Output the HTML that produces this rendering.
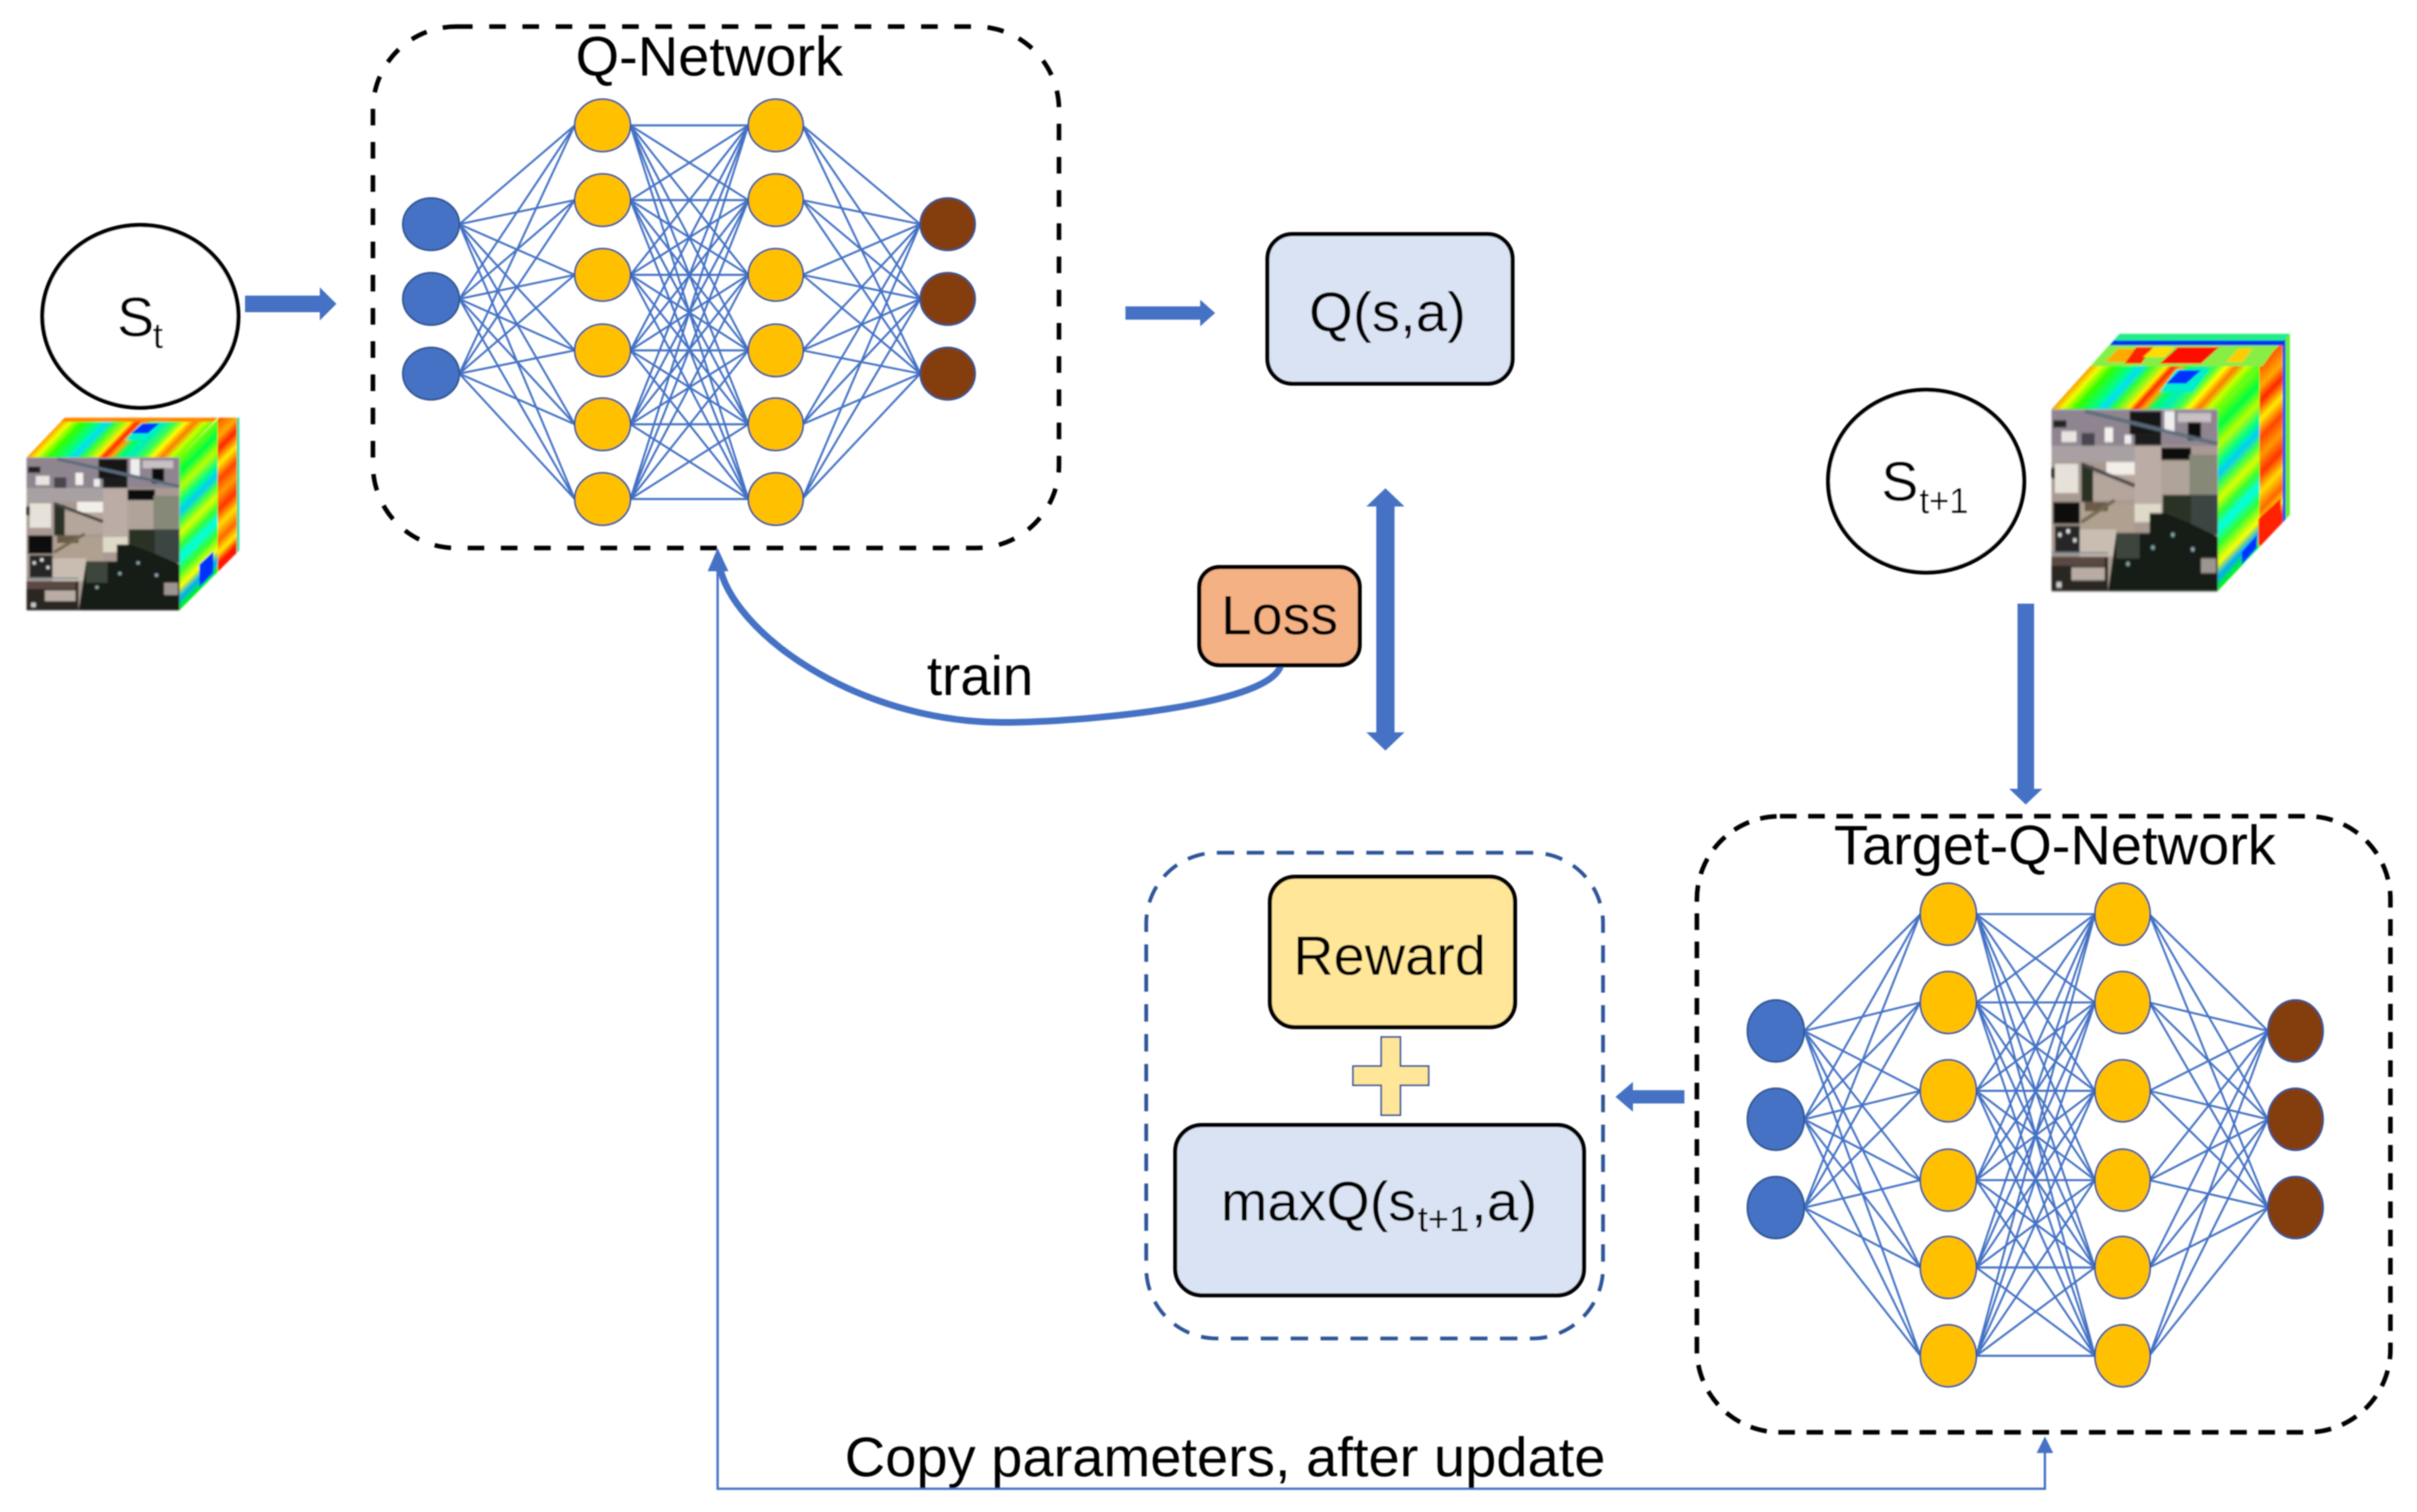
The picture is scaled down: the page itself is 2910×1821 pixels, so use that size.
<!DOCTYPE html>
<html>
<head>
<meta charset="utf-8">
<style>
html,body{margin:0;padding:0;background:#fff}
svg{display:block}
text{font-family:"Liberation Sans",sans-serif;fill:#000;font-size:67px}
.l{fill:none;stroke:#4472c4;stroke-width:2.4;vector-effect:non-scaling-stroke}
.h{fill:#ffc000;stroke:#2f528f;stroke-width:2;vector-effect:non-scaling-stroke}
.i{fill:#4472c4;stroke:#2f528f;stroke-width:2;vector-effect:non-scaling-stroke}
.o{fill:#843c0c;stroke:#2f528f;stroke-width:2;vector-effect:non-scaling-stroke}
</style>
</head>
<body>
<svg xmlns="http://www.w3.org/2000/svg" width="2910" height="1821" viewBox="0 0 2910 1821">
<defs>
<filter id="all" filterUnits="userSpaceOnUse" x="0" y="0" width="2910" height="1821"><feGaussianBlur stdDeviation="0.8"/></filter>
<filter id="b" x="-5%" y="-5%" width="110%" height="110%"><feGaussianBlur stdDeviation="0.45"/></filter>
<filter id="b2" x="-10%" y="-10%" width="120%" height="120%"><feGaussianBlur stdDeviation="0.9"/></filter>
<linearGradient id="top" x1="0" x2="1" y1="0" y2="0">
<stop offset="0" stop-color="#ff9900"/><stop offset=".06" stop-color="#eeff00"/><stop offset=".14" stop-color="#33ff00"/><stop offset=".25" stop-color="#00ff88"/><stop offset=".31" stop-color="#00ddff"/><stop offset=".37" stop-color="#33ff33"/><stop offset=".46" stop-color="#ffee00"/><stop offset=".5" stop-color="#ff2200"/><stop offset=".55" stop-color="#ffaa00"/><stop offset=".6" stop-color="#00ff66"/><stop offset=".68" stop-color="#00eebb"/><stop offset=".76" stop-color="#44ff44"/><stop offset=".82" stop-color="#ffff00"/><stop offset=".88" stop-color="#ff7700"/><stop offset=".94" stop-color="#ccff00"/><stop offset="1" stop-color="#66ff00"/>
</linearGradient>
<linearGradient id="near" x1="0" x2="0" y1="0" y2="1">
<stop offset="0" stop-color="#77ff00"/><stop offset=".1" stop-color="#00ff44"/><stop offset=".2" stop-color="#bbff00"/><stop offset=".3" stop-color="#00ff88"/><stop offset=".36" stop-color="#00ccff"/><stop offset=".43" stop-color="#44ff44"/><stop offset=".5" stop-color="#ddff00"/><stop offset=".58" stop-color="#33ff33"/><stop offset=".66" stop-color="#00ffee"/><stop offset=".75" stop-color="#33ff33"/><stop offset=".85" stop-color="#ffff00"/><stop offset=".92" stop-color="#00aaff"/><stop offset="1" stop-color="#00ff00"/>
</linearGradient>
<linearGradient id="far" x1="0" x2="0" y1="0" y2="1">
<stop offset="0" stop-color="#ff5500"/><stop offset=".12" stop-color="#ffaa00"/><stop offset=".2" stop-color="#ff2200"/><stop offset=".3" stop-color="#ffee00"/><stop offset=".4" stop-color="#ff4400"/><stop offset=".5" stop-color="#ff9900"/><stop offset=".6" stop-color="#ff3300"/><stop offset=".7" stop-color="#ffdd00"/><stop offset=".8" stop-color="#ff6600"/><stop offset=".88" stop-color="#ffee00"/><stop offset=".95" stop-color="#ff1100"/><stop offset="1" stop-color="#ff2200"/>
</linearGradient>
<g id="photo">
<rect width="100" height="100" fill="#a89a92"/>
<rect width="100" height="20" fill="#8f8590"/>
<rect x="47" y="1" width="19" height="13" fill="#151515"/>
<rect x="68" y="1" width="6" height="11" fill="#eee"/>
<rect x="76" y="2" width="20" height="5" fill="#c8c0c4"/>
<rect x="82" y="7" width="8" height="10" fill="#111"/>
<rect x="32" y="10" width="5" height="8" fill="#f4f2ee"/>
<rect x="6" y="12" width="9" height="6" fill="#e8e4e0"/>
<rect x="44" y="14" width="4" height="5" fill="#eee"/>
<rect x="1" y="6" width="8" height="4" fill="#222"/>
<rect x="18" y="13" width="8" height="7" fill="#4a4450"/>
<rect x="50" y="13" width="16" height="7" fill="#1b1b1b"/>
<rect x="0" y="20" width="50" height="9" fill="#a8a0a2"/>
<rect x="66" y="21" width="18" height="7" fill="#0a0a0a"/>
<rect x="83" y="25" width="17" height="22" fill="#868878"/>
<rect x="50" y="20" width="16" height="32" fill="#bbaca6"/>
<rect x="66" y="28" width="17" height="19" fill="#b0a49a"/>
<rect x="2" y="30" width="14" height="16" fill="#e6e2da"/>
<rect x="33" y="29" width="17" height="7" fill="#f2efe8"/>
<rect x="25" y="36" width="25" height="14" fill="#b5a69c"/>
<rect x="18" y="31" width="7" height="20" fill="#2a3328"/>
<rect x="0" y="32" width="2" height="6" fill="#111"/>
<rect x="1" y="51" width="16" height="12" fill="#0c0c0c"/>
<rect x="18" y="52" width="32" height="16" fill="#b0a090"/>
<rect x="20" y="51" width="14" height="5" fill="#6a5a46"/>
<rect x="50" y="52" width="16" height="10" fill="#dfdac8"/>
<rect x="2" y="64" width="15" height="15" fill="#262626"/>
<rect x="17" y="66" width="22" height="15" fill="#c8bdb0"/>
<rect x="67" y="47" width="17" height="16" fill="#2a3028"/>
<rect x="84" y="47" width="16" height="22" fill="#3a4442"/>
<polygon points="59,57 68,57 84,63 100,70 100,100 34,100 39,68 59,68" fill="#141a18"/>
<rect x="39" y="68" width="14" height="14" fill="#3c443c"/>
<rect x="0" y="81" width="34" height="19" fill="#2a2624"/>
<rect x="0" y="81" width="32" height="5" fill="#5a4a42"/>
<rect x="12" y="87" width="20" height="7" fill="#b8aca4"/>
<rect x="90" y="82" width="9" height="8" fill="#9d9590"/>
<rect x="4" y="68" width="2" height="2" fill="#ddd"/><rect x="9" y="66" width="2" height="2" fill="#eee"/><rect x="13" y="71" width="2" height="2" fill="#ddd"/>
<rect x="60" y="75" width="2" height="2" fill="#8aa"/><rect x="72" y="68" width="2" height="2" fill="#8aa"/><rect x="84" y="76" width="2" height="2" fill="#9ab"/><rect x="45" y="84" width="2" height="2" fill="#8aa"/><rect x="3" y="95" width="3" height="3" fill="#ccc"/>
<path d="M20 1L100 19" stroke="#5c6c7c" stroke-width="2" fill="none"/>
<path d="M18 30L50 42" stroke="#444" stroke-width="2" fill="none"/>
<path d="M18 62L38 50" stroke="#6f6a50" stroke-width="2" fill="none"/>
<path d="M0 79H34" stroke="#7c8c98" stroke-width="1" fill="none"/>
</g>
<clipPath id="c1"><rect x="0" y="503" width="320" height="260"/></clipPath>
<clipPath id="c2"><polygon points="2670,493 2757,402 2757,620 2670,712"/></clipPath>
<g id="net">
<path class="l" d="M553 270L692 151M553 270L692 241M553 270L692 331M553 270L692 422M553 270L692 511M553 270L692 601M553 360L692 151M553 360L692 241M553 360L692 331M553 360L692 422M553 360L692 511M553 360L692 601M553 450L692 151M553 450L692 241M553 450L692 331M553 450L692 422M553 450L692 511M553 450L692 601"/>
<path class="l" d="M759 151L901 151M759 151L901 241M759 151L901 331M759 151L901 422M759 151L901 511M759 151L901 601M759 241L901 151M759 241L901 241M759 241L901 331M759 241L901 422M759 241L901 511M759 241L901 601M759 331L901 151M759 331L901 241M759 331L901 331M759 331L901 422M759 331L901 511M759 331L901 601M759 422L901 151M759 422L901 241M759 422L901 331M759 422L901 422M759 422L901 511M759 422L901 601M759 511L901 151M759 511L901 241M759 511L901 331M759 511L901 422M759 511L901 511M759 511L901 601M759 601L901 151M759 601L901 241M759 601L901 331M759 601L901 422M759 601L901 511M759 601L901 601"/>
<path class="l" d="M966 151L1108 270M966 151L1108 360M966 151L1108 450M966 241L1108 270M966 241L1108 360M966 241L1108 450M966 331L1108 270M966 331L1108 360M966 331L1108 450M966 422L1108 270M966 422L1108 360M966 422L1108 450M966 511L1108 270M966 511L1108 360M966 511L1108 450M966 601L1108 270M966 601L1108 360M966 601L1108 450"/>
<ellipse class="i" cx="519" cy="270" rx="34" ry="31.5"/><ellipse class="i" cx="519" cy="360" rx="34" ry="31.5"/><ellipse class="i" cx="519" cy="450" rx="34" ry="31.5"/>
<ellipse class="h" cx="725.5" cy="151" rx="33.5" ry="31.5"/><ellipse class="h" cx="725.5" cy="241" rx="33.5" ry="31.5"/><ellipse class="h" cx="725.5" cy="331" rx="33.5" ry="31.5"/><ellipse class="h" cx="725.5" cy="422" rx="33.5" ry="31.5"/><ellipse class="h" cx="725.5" cy="511" rx="33.5" ry="31.5"/><ellipse class="h" cx="725.5" cy="601" rx="33.5" ry="31.5"/>
<ellipse class="h" cx="934" cy="151" rx="33" ry="31.5"/><ellipse class="h" cx="934" cy="241" rx="33" ry="31.5"/><ellipse class="h" cx="934" cy="331" rx="33" ry="31.5"/><ellipse class="h" cx="934" cy="422" rx="33" ry="31.5"/><ellipse class="h" cx="934" cy="511" rx="33" ry="31.5"/><ellipse class="h" cx="934" cy="601" rx="33" ry="31.5"/>
<ellipse class="o" cx="1141" cy="270" rx="33" ry="31.5"/><ellipse class="o" cx="1141" cy="360" rx="33" ry="31.5"/><ellipse class="o" cx="1141" cy="450" rx="33" ry="31.5"/>
</g>
</defs>

<rect width="2910" height="1821" fill="#fff"/>
<g filter="url(#all)">

<!-- Cube 1 -->
<g filter="url(#b2)">
<g clip-path="url(#c1)">
<g transform="matrix(72,-72,0,184,216,551)">
<rect width=".64" height="1" fill="url(#near)"/>
<rect x=".64" width=".32" height="1" fill="url(#far)"/>
<rect x=".96" width=".04" height="1" fill="#00dd99"/>
</g>
<polygon points="240,680 257,664 257,690 240,707" fill="#0033ff"/>
<g transform="matrix(184,0,46,-48,32,551)"><rect width="1" height="1" fill="url(#top)"/></g>
<polygon points="150,530 175,530 195,510 170,510" fill="#00eecc"/>
<polygon points="158,522 178,522 192,510 172,510" fill="#0033ff"/>
<polygon points="78,503 262,503 257,508 73,508" fill="#ff8800"/>
</g>
<g transform="translate(32,551) scale(1.84)"><use href="#photo" filter="url(#b)"/></g>
</g>

<!-- Cube 2 -->
<g filter="url(#b2)">
<g clip-path="url(#c2)">
<g transform="matrix(87,-91,0,219,2670,493)">
<rect width=".58" height="1" fill="url(#near)"/>
<rect x=".58" width=".32" height="1" fill="url(#far)"/>
<rect x=".9" width=".04" height="1" fill="#0044ee"/>
<rect x=".94" width=".06" height="1" fill="#66ee33"/>
</g>
<polygon points="2699,680 2717,660 2717,645 2699,665" fill="#0033ff"/>
<polygon points="2719,657 2746,630 2746,600 2719,625" fill="#ff2200"/>
</g>
<polygon points="2470,493 2552,402 2757,402 2670,493" fill="#33ff33"/>
<g transform="matrix(200,0,47,-52,2470,493)"><rect width="1" height="1" fill="url(#top)"/></g>
<polygon points="2517,441 2724,441 2745,412 2545,412" fill="#88ee44"/>
<polygon points="2535,436 2560,436 2575,420 2550,420" fill="#ffaa00"/>
<polygon points="2558,438 2578,438 2592,418 2572,418" fill="#ff2200"/>
<polygon points="2600,438 2650,438 2672,418 2622,418" fill="#ff1100"/>
<polygon points="2580,430 2606,430 2618,418 2594,418" fill="#ffdd00"/>
<polygon points="2680,436 2700,436 2712,420 2695,420" fill="#ffcc00"/>
<polygon points="2545,410 2750,410 2750,416 2540,416" fill="#0033ee"/>
<polygon points="2552,402 2757,402 2750,410 2545,410" fill="#22ee88"/>
<polygon points="2600,472 2640,472 2660,445 2620,445" fill="#00eecc"/>
<polygon points="2608,462 2632,462 2650,446 2624,446" fill="#0033ff"/>
<g transform="translate(2470,493) scale(2,2.19)"><use href="#photo" filter="url(#b)"/></g>
</g>

<!-- Copy connector -->
<path d="M864 687V1793H2462V1745" fill="none" stroke="#4472c4" stroke-width="2.8"/>
<polygon points="2462,1730 2452,1750 2472,1750" fill="#4472c4"/>

<!-- Curve -->
<path d="M1542 801C1530 850 1300 870 1208 870C1030 870 880 760 866 680" fill="none" stroke="#4472c4" stroke-width="8"/>
<polygon points="864,660 852,688 877,688" fill="#4472c4"/>

<!-- Q-Network -->
<rect x="449" y="32" width="826" height="628" rx="100" ry="100" fill="none" stroke="#000" stroke-width="5.5" stroke-dasharray="20 20"/>
<use href="#net"/>
<text x="693" y="91" textLength="322" lengthAdjust="spacingAndGlyphs">Q-Network</text>

<!-- St -->
<ellipse cx="169" cy="381" rx="118" ry="110" fill="#fff" stroke="#000" stroke-width="5"/>
<text x="141" y="405">S</text><text x="184" y="419" style="font-size:44px">t</text>

<!-- St+1 -->
<ellipse cx="2319" cy="579.5" rx="118" ry="110" fill="#fff" stroke="#000" stroke-width="5"/>
<text x="2265" y="603">S</text><text x="2311" y="618" style="font-size:44px" textLength="59" lengthAdjust="spacingAndGlyphs">t+1</text>

<!-- Arrows -->
<polygon points="295,356 385,356 385,346 405,366 385,386 385,376 295,376" fill="#4472c4"/>
<polygon points="1355,369 1445,369 1445,361 1463,377 1445,393 1445,385 1355,385" fill="#4472c4"/>
<polygon points="1668,588 1691,610 1679,610 1679,882 1691,882 1668,904 1645,882 1657,882 1657,610 1645,610" fill="#4472c4"/>
<polygon points="2429,727 2449,727 2449,950 2459,950 2439,969 2419,950 2429,950" fill="#4472c4"/>
<polygon points="1945,1321 1966,1303 1966,1313 2028,1313 2028,1329 1966,1329 1966,1339" fill="#4472c4"/>

<!-- Q(s,a) -->
<rect x="1526" y="282" width="295" height="180" rx="30" ry="30" fill="#dae3f3" stroke="#000" stroke-width="5"/>
<text x="1576" y="399" textLength="189" lengthAdjust="spacingAndGlyphs">Q(s,a)</text>

<!-- Loss -->
<rect x="1444" y="683" width="193" height="118" rx="24" ry="24" fill="#f4b183" stroke="#000" stroke-width="5"/>
<text x="1470" y="764" textLength="141" lengthAdjust="spacingAndGlyphs">Loss</text>
<text x="1116" y="837" textLength="128" lengthAdjust="spacingAndGlyphs">train</text>

<!-- Reward group -->
<rect x="1380" y="1027" width="550" height="585" rx="85" ry="85" fill="none" stroke="#2f5597" stroke-width="4.5" stroke-dasharray="21 15"/>
<rect x="1529" y="1056" width="295" height="181" rx="30" ry="30" fill="#ffe699" stroke="#000" stroke-width="5"/>
<text x="1557" y="1174" textLength="232" lengthAdjust="spacingAndGlyphs">Reward</text>
<polygon points="1663,1249 1686,1249 1686,1284 1720,1284 1720,1307 1686,1307 1686,1343 1663,1343 1663,1307 1629,1307 1629,1284 1663,1284" fill="#ffe699" stroke="#2f5597" stroke-width="2"/>
<rect x="1415" y="1355" width="492" height="205" rx="32" ry="32" fill="#dae3f3" stroke="#000" stroke-width="5"/>
<text x="1470" y="1470" textLength="235" lengthAdjust="spacingAndGlyphs">maxQ(s</text>
<text x="1707" y="1483" style="font-size:44px" textLength="62" lengthAdjust="spacingAndGlyphs">t+1</text>
<text x="1771" y="1470" textLength="80" lengthAdjust="spacingAndGlyphs">,a)</text>

<!-- Target-Q-Network -->
<rect x="2043" y="983" width="835" height="742" rx="100" ry="100" fill="none" stroke="#000" stroke-width="5.5" stroke-dasharray="20 14"/>
<g transform="translate(1615.9,922.5) scale(1.006,1.182)"><use href="#net"/></g>
<text x="2208" y="1041" textLength="532" lengthAdjust="spacingAndGlyphs">Target-Q-Network</text>

<!-- Copy label -->
<text x="1017" y="1778" textLength="916" lengthAdjust="spacingAndGlyphs">Copy parameters, after update</text>
</g>
</svg>
</body>
</html>
